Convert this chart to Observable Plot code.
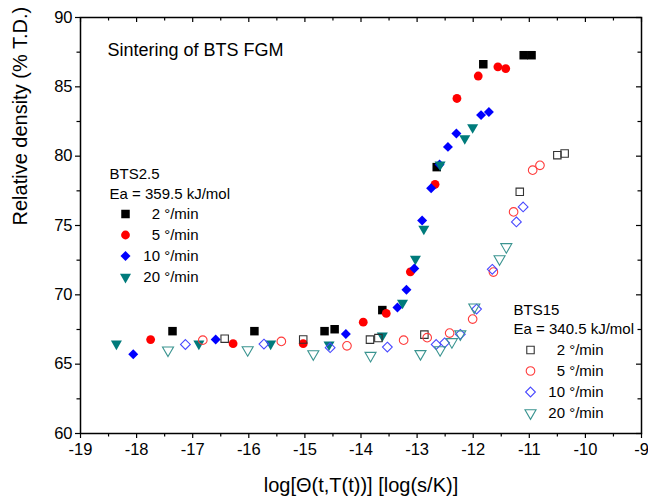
<!DOCTYPE html>
<html><head><meta charset="utf-8">
<script src="https://cdn.jsdelivr.net/npm/d3@7"></script>
<script src="https://cdn.jsdelivr.net/npm/@observablehq/plot@0.6"></script>
<style>
body{margin:0;background:#fff}
svg{font-family:"Liberation Sans",Arial,sans-serif}
</style>
</head><body><div id="chart"></div>
<script>
// ---------- data ----------
// BTS2.5 (filled symbols)
const bts25_2_x  = [-17.36,-15.90,-14.65,-14.47,-13.62,-12.65,-11.82,-11.10,-10.96];
const bts25_2_y  = [67.38,67.38,67.38,67.52,68.90,79.21,86.63,87.28,87.28];
const bts25_5_x  = [-17.75,-16.28,-15.03,-13.96,-13.55,-13.12,-12.68,-12.29,-11.91,-11.56,-11.42];
const bts25_5_y  = [66.77,66.48,66.48,68.03,68.66,71.66,77.97,84.16,85.78,86.44,86.32];
const bts25_10_x = [-18.06,-16.59,-14.27,-13.35,-13.19,-13.05,-12.91,-12.75,-12.60,-12.45,-12.30,-11.86,-11.72];
const bts25_10_y = [65.71,66.78,67.17,69.09,70.37,71.90,75.36,77.69,79.40,80.67,81.64,82.96,83.19];
const bts25_20_x = [-18.36,-16.89,-15.61,-14.57,-13.62,-13.26,-13.03,-12.88,-12.59,-12.15,-12.01];
const bts25_20_y = [66.47,66.47,66.47,66.41,67.06,69.42,72.59,74.76,79.39,81.28,82.07];
// BTS15 (open symbols)
const bts15_2_x  = [-16.43,-15.03,-13.84,-13.69,-12.87,-11.17,-10.50,-10.37];
const bts15_2_y  = [66.84,66.78,66.77,66.88,67.13,77.43,80.07,80.19];
const bts15_5_x  = [-16.82,-15.42,-14.25,-13.24,-12.82,-12.42,-12.01,-11.64,-11.28,-10.94,-10.81];
const bts15_5_y  = [66.73,66.64,66.32,66.73,66.91,67.24,68.25,71.64,75.98,78.99,79.34];
const bts15_10_x = [-17.13,-15.73,-14.55,-13.53,-12.66,-12.51,-12.23,-11.94,-11.66,-11.23,-11.11];
const bts15_10_y = [66.42,66.45,66.19,66.23,66.42,66.54,67.15,68.97,71.84,75.26,76.34];
const bts15_20_x = [-17.44,-16.02,-14.85,-13.83,-12.94,-12.59,-12.38,-12.23,-11.98,-11.53,-11.41];
const bts15_20_y = [66.01,66.03,65.74,65.62,65.75,66.03,66.61,67.17,69.11,72.59,73.46];

const rateLabels = ["2 \u00B0/min","5 \u00B0/min","10 \u00B0/min","20 \u00B0/min"];
const xMajor = [-19,-18,-17,-16,-15,-14,-13,-12,-11,-10,-9];
const xMinor = [-18.5,-17.5,-16.5,-15.5,-14.5,-13.5,-12.5,-11.5,-10.5,-9.5];
const yMajor = [60,65,70,75,80,85,90];
const yMinor = [62.5,67.5,72.5,77.5,82.5,87.5];

// ---------- layout / style ----------
const W = 648, H = 496, ML = 80, MR = 7, MT = 17, MB = 63;
const FW = W - ML - MR, FH = H - MT - MB;

const sqrt3 = Math.sqrt(3);
const triangleDown = {
  draw(context, size) {
    const y = -Math.sqrt(size / (sqrt3 * 3));
    context.moveTo(0, -y * 2);
    context.lineTo(-sqrt3 * y, y);
    context.lineTo(sqrt3 * y, y);
    context.closePath();
  }
};

const filledStyles = [
  {symbol: "square",   r: 4.8, color: "#000000"},
  {symbol: "circle",   r: 4.4, color: "#ff0000"},
  {symbol: "diamond2", r: 4.5, color: "#0000ff"},
  {symbol: triangleDown, r: 4.1, color: "#007b7b"}
];
const openStyles = [
  {symbol: "square",   r: 4.2, color: "#333333"},
  {symbol: "circle",   r: 4.3, color: "#ff3b3b"},
  {symbol: "diamond2", r: 4.4, color: "#4848ff"},
  {symbol: triangleDown, r: 4.1, color: "#3a9490"}
];

const filledSeries = [[bts25_2_x,bts25_2_y],[bts25_5_x,bts25_5_y],[bts25_10_x,bts25_10_y],[bts25_20_x,bts25_20_y]];
const openSeries   = [[bts15_2_x,bts15_2_y],[bts15_5_x,bts15_5_y],[bts15_10_x,bts15_10_y],[bts15_20_x,bts15_20_y]];

const toRows = ([xs, ys]) => xs.map((x, i) => ({x, y: ys[i]}));

const marks = [];
filledSeries.forEach((s, i) => {
  const st = filledStyles[i];
  marks.push(Plot.dot(toRows(s), {x: "x", y: "y", symbol: () => st.symbol, r: st.r, fill: st.color, stroke: "none"}));
});
openSeries.forEach((s, i) => {
  const st = openStyles[i];
  marks.push(Plot.dot(toRows(s), {x: "x", y: "y", symbol: () => st.symbol, r: st.r, fill: "none", stroke: st.color, strokeWidth: 1.1}));
});

// axes: outward ticks bottom/left, inward ticks top/right
const axisStyle = {stroke: "#000", strokeWidth: 1.2};
marks.push(
  Plot.axisX(xMajor, {anchor: "bottom", tickSize: 5, tickPadding: 5, tickFormat: d => String(d), fontSize: 16.5, label: null, ...axisStyle}),
  Plot.axisX(xMinor, {anchor: "bottom", tickSize: 3.5, tickFormat: () => "", label: null, ...axisStyle}),
  Plot.axisY(yMajor, {anchor: "left", tickSize: 5, tickPadding: 3, tickFormat: d => String(d), fontSize: 16.5, label: null, ...axisStyle}),
  Plot.axisY(yMinor, {anchor: "left", tickSize: 3.5, tickFormat: () => "", label: null, ...axisStyle}),
  Plot.tickX(xMajor, {x: d => d, insetBottom: FH - 5, ...axisStyle}),
  Plot.tickX(xMinor, {x: d => d, insetBottom: FH - 3.5, ...axisStyle}),
  Plot.tickY(yMajor, {y: d => d, insetLeft: FW - 5, ...axisStyle}),
  Plot.tickY(yMinor, {y: d => d, insetLeft: FW - 3.5, ...axisStyle}),
  Plot.frame({stroke: "#000", strokeWidth: 1.5})
);

// axis titles
marks.push(
  Plot.text(["log[\u0398(t,T(t))] [log(s/K)]"], {frameAnchor: "bottom", dy: 52, fontSize: 20, lineAnchor: "middle", fill: "#000"}),
  Plot.text(["Relative density (% T.D.)"], {frameAnchor: "left", dx: -60, rotate: -90, fontSize: 20, lineAnchor: "middle", fill: "#000"})
);

// text helpers placed relative to the frame's top-left corner (pixel offsets)
const label = (t, px, py, opts = {}) => Plot.text([t], {frameAnchor: "top-left", dx: px - ML, dy: py - MT, textAnchor: "start", lineAnchor: "middle", fontSize: 15, fill: "#000", ...opts});
const legendDot = (st, px, py, filled) => Plot.dot([0], {frameAnchor: "top-left", dx: px - ML, dy: py - MT, symbol: () => st.symbol, r: st.r,
  fill: filled ? st.color : "none", stroke: filled ? "none" : st.color, strokeWidth: 1.1});

marks.push(label("Sintering of BTS FGM", 107, 50, {fontSize: 18}));

// BTS2.5 legend
marks.push(label("BTS2.5", 109, 174), label("Ea = 359.5 kJ/mol", 109, 193.5));
rateLabels.forEach((t, i) => {
  const py = 213.5 + i * 21;
  marks.push(legendDot(filledStyles[i], 125, py, true), label(t, 198, py, {textAnchor: "end"}));
});
// BTS15 legend
marks.push(label("BTS15", 513, 310), label("Ea = 340.5 kJ/mol", 513, 329));
rateLabels.forEach((t, i) => {
  const py = 349.5 + i * 21;
  marks.push(legendDot(openStyles[i], 530, py, false), label(t, 603, py, {textAnchor: "end"}));
});

const chart = Plot.plot({
  width: W, height: H,
  marginLeft: ML, marginRight: MR, marginTop: MT, marginBottom: MB,
  x: {domain: [-19, -9]},
  y: {domain: [60, 90]},
  style: {fontFamily: "'Liberation Sans', Arial, sans-serif", color: "#000", background: "#fff"},
  marks
});
document.getElementById("chart").appendChild(chart);
</script>
</body></html>
